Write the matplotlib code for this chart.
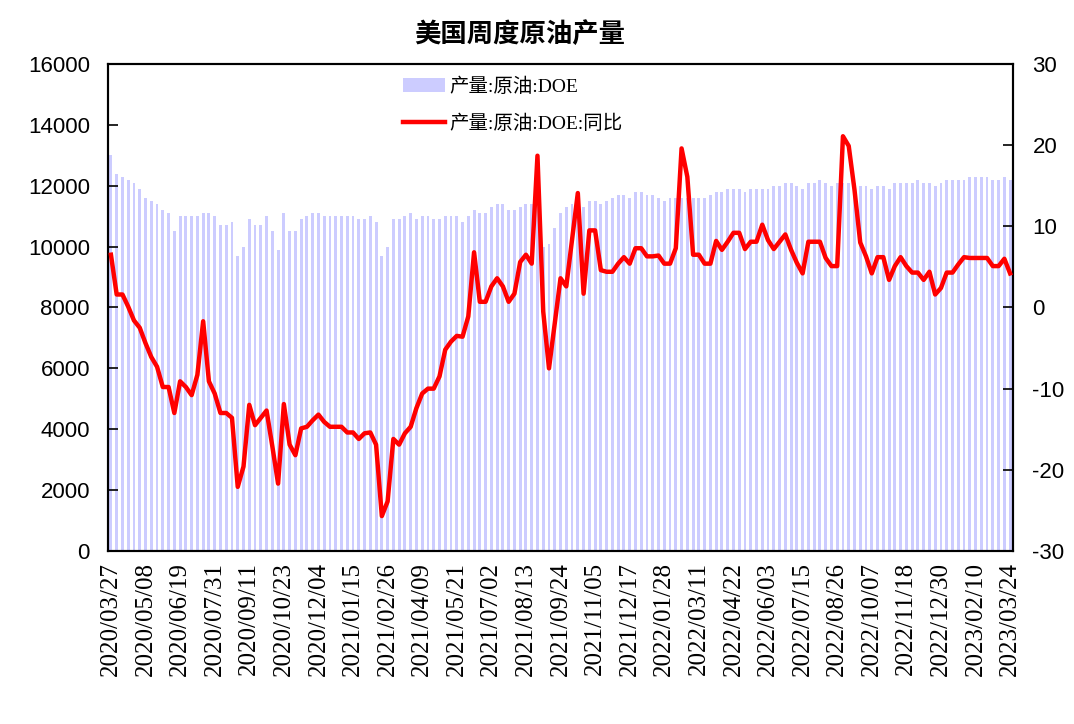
"""US weekly crude oil production with YoY change."""

import matplotlib
matplotlib.use("Agg")
import matplotlib.pyplot as plt
import numpy as np

plt.rcParams["font.family"] = ["Liberation Sans", "Noto Sans CJK SC"]
plt.rcParams["axes.unicode_minus"] = False

# weekly production, kb/d (2020/03/27 .. 2023/03/24)
production = [
    13000, 12400, 12300, 12200, 12100, 11900, 11600, 11500, 11400, 11200,
    11100, 10500, 11000, 11000, 11000, 11000, 11100, 11100, 11000, 10700,
    10700, 10800, 9700, 10000, 10900, 10700, 10700, 11000, 10500, 9900,
    11100, 10500, 10500, 10900, 11000, 11100, 11100, 11000,
    11000, 11000, 11000, 11000, 11000, 10900, 10900, 11000, 10800, 9700,
    10000, 10900, 10900, 11000, 11100, 10900, 11000, 11000, 10900, 10900,
    11000, 11000, 11000, 10800, 11000, 11200, 11100, 11100, 11300, 11400,
    11400, 11200, 11200, 11300, 11400, 11400, 11400, 10000, 10100,
    10600, 11100, 11300, 11400, 11400, 11300, 11500, 11500, 11400, 11500,
    11600, 11700, 11700, 11600, 11800, 11800, 11700, 11700, 11600, 11500,
    11600, 11600, 11600, 11600, 11600, 11600, 11600, 11700, 11800, 11800,
    11900, 11900, 11900, 11800, 11900, 11900, 11900, 11900,
    12000, 12000, 12100, 12100, 12000, 11900, 12100, 12100, 12200, 12100,
    12000, 12100, 12100, 12100, 12100, 12000, 12000, 11900, 12000, 12000,
    11900, 12100, 12100, 12100, 12100, 12200, 12100, 12100, 12000, 12100,
    12200, 12200, 12200, 12200, 12300, 12300, 12300, 12300, 12200, 12200,
    12300, 12200,
]

# year-on-year change, %
yoy = [
    6.5, 1.6, 1.6, 0.1, -1.6, -2.5, -4.4, -6.1, -7.3, -9.8,
    -9.8, -13.0, -9.1, -9.8, -10.8, -8.3, -1.7, -9.1, -10.6, -13.0,
    -13.0, -13.6, -22.1, -19.6, -12.0, -14.5, -13.6, -12.7, -17.1, -21.7,
    -11.9, -16.9, -18.2, -14.9, -14.7, -13.9, -13.2, -14.1,
    -14.7, -14.7, -14.7, -15.4, -15.4, -16.2, -15.5, -15.4, -16.9, -25.7,
    -23.9, -16.2, -16.9, -15.5, -14.7, -12.4, -10.6, -10.0, -10.0, -8.5,
    -5.2, -4.2, -3.5, -3.6, -1.1, 6.8, 0.7, 0.7, 2.6, 3.6,
    2.6, 0.7, 1.7, 5.6, 6.5, 5.4, 18.7, -0.5, -7.5,
    -1.9, 3.6, 2.6, 8.3, 14.1, 1.7, 9.5, 9.5, 4.6, 4.4,
    4.4, 5.4, 6.2, 5.4, 7.3, 7.3, 6.3, 6.3, 6.4, 5.4,
    5.4, 7.3, 19.6, 16.1, 6.5, 6.5, 5.4, 5.4, 8.2, 7.1,
    8.1, 9.2, 9.2, 7.2, 8.1, 8.1, 10.2, 8.3,
    7.2, 8.1, 9.0, 7.1, 5.5, 4.2, 8.1, 8.1, 8.1, 6.1,
    5.1, 5.1, 21.1, 19.9, 14.5, 8.0, 6.3, 4.2, 6.2, 6.2,
    3.4, 5.1, 6.2, 5.1, 4.3, 4.3, 3.4, 4.4, 1.6, 2.4,
    4.3, 4.3, 5.3, 6.2, 6.1, 6.1, 6.1, 6.1, 5.1, 5.1,
    6.0, 4.2,
]

tick_labels = [
    "2020/03/27", "2020/05/08", "2020/06/19", "2020/07/31", "2020/09/11",
    "2020/10/23", "2020/12/04", "2021/01/15", "2021/02/26", "2021/04/09",
    "2021/05/21", "2021/07/02", "2021/08/13", "2021/09/24", "2021/11/05",
    "2021/12/17", "2022/01/28", "2022/03/11", "2022/04/22", "2022/06/03",
    "2022/07/15", "2022/08/26", "2022/10/07", "2022/11/18", "2022/12/30",
    "2023/02/10", "2023/03/24",
]

x = np.arange(len(production))

fig = plt.figure(figsize=(10.74, 7.24), dpi=100)
ax = fig.add_axes([0.1006, 0.239, 0.8426, 0.6726])
ax2 = ax.twinx()

bars = ax.bar(x, production, width=0.5, color="#CCCCFF", linewidth=0, zorder=1)
line, = ax2.plot(x, yoy, color="#FF0000", linewidth=3.2, zorder=3)

ax.set_xlim(-0.5, len(production) - 0.5)
ax.set_ylim(0, 16000)
ax.set_yticks(np.arange(0, 16001, 2000))
ax2.set_ylim(-30, 30)
ax2.set_yticks(np.arange(-30, 31, 10))

ax.set_xticks(x[::6])
ax.set_xticklabels(tick_labels, rotation=90, family="Liberation Serif", fontsize=18)
ax.tick_params(axis="x", length=0, pad=8)
ax.tick_params(axis="y", direction="in", length=7, width=1.2, labelsize=16, pad=13)
ax2.tick_params(axis="y", direction="in", length=7, width=1.2, labelsize=16, pad=14)

for a in (ax, ax2):
    for s in a.spines.values():
        s.set_linewidth(1.5)
        s.set_color("black")

leg = ax.legend(
    [bars, line],
    ["产量:原油:DOE", "产量:原油:DOE:同比"],
    loc="upper left",
    bbox_to_anchor=(0.326, 0.972),
    frameon=False,
    prop={"family": ["Liberation Serif", "Noto Sans CJK SC"], "size": 14},
    handlelength=2.15,
    handletextpad=0.25,
    labelspacing=0.95,
    borderpad=0,
    borderaxespad=0,
)
leg.set_zorder(5)

fig.text(0.484, 0.953, "美国周度原油产量", ha="center", va="center",
         family="Noto Sans CJK SC", fontweight="bold", fontsize=19)

fig.savefig("out.png", dpi=100)
